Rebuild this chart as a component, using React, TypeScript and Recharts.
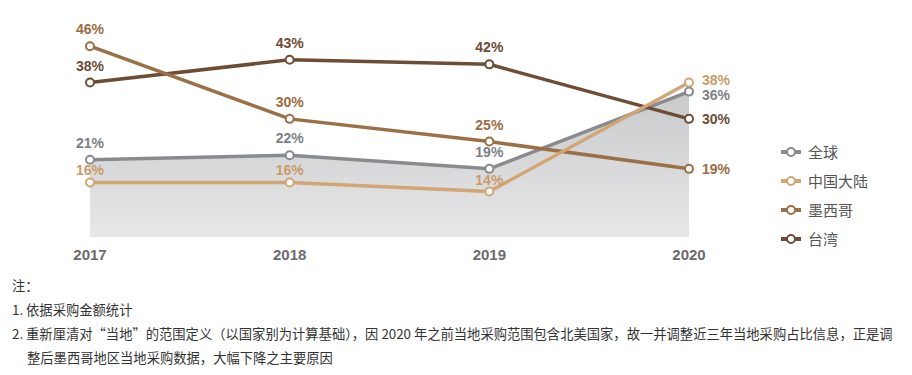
import { Area, ComposedChart, Line, XAxis, YAxis } from "recharts";

const years = ["2017", "2018", "2019", "2020"];
const globalShare = [21, 22, 19, 36];
const chinaShare = [16, 16, 14, 38];
const mexicoShare = [46, 30, 25, 19];
const taiwanShare = [38, 43, 42, 30];

const seriesNames = ["全球", "中国大陆", "墨西哥", "台湾"];
const seriesColors = ["#8a8b8e", "#d2a574", "#9c7046", "#6f4d35"];
const labelColors = ["#7d7f84", "#c99b69", "#9a6c43", "#6e4c35"];

const notes = [
  "注：",
  "1. 依据采购金额统计",
  "2. 重新厘清对“当地”的范围定义（以国家别为计算基础），因 2020 年之前当地采购范围包含北美国家，故一并调整近三年当地采购占比信息，正是调",
  "整后墨西哥地区当地采购数据，大幅下降之主要原因",
];

const rows = years.map((y, i) => ({
  year: y,
  global: globalShare[i],
  china: chinaShare[i],
  mexico: mexicoShare[i],
  taiwan: taiwanShare[i],
}));

const FONT = "'Liberation Sans', Arial, sans-serif";
const CJK = "'Noto Sans CJK SC', sans-serif";

// labels sit above the point, except the last year which goes to the right
const makeLabel = (color: string, lastDy = 0, above = 17) => (props: any) => {
  const { x, y, value, index } = props;
  const last = index === years.length - 1;
  return (
    <text
      x={last ? x + 13 : x}
      y={last ? y + lastDy : y - above}
      fill={color}
      fontSize={14}
      fontWeight="bold"
      fontFamily={FONT}
      textAnchor={last ? "start" : "middle"}
      dominantBaseline="central"
    >
      {value}%
    </text>
  );
};

const dot = (color: string) => ({ r: 4, fill: "#fff", stroke: color, strokeWidth: 2 });

function LegendBox() {
  return (
    <div style={{ position: "absolute", left: 781, top: 137 }}>
      {seriesNames.map((name, i) => (
        <div key={name} style={{ display: "flex", alignItems: "center", height: 29 }}>
          <svg width={22} height={12}>
            <line x1={0} y1={6} x2={20} y2={6} stroke={seriesColors[i]} strokeWidth={4} />
            <circle cx={10} cy={6} r={4} fill="#fff" stroke={seriesColors[i]} strokeWidth={2} />
          </svg>
          <span style={{ marginLeft: 5, fontSize: 15, color: "#555", fontFamily: CJK }}>{name}</span>
        </div>
      ))}
    </div>
  );
}

export default function App() {
  return (
    <div style={{ position: "absolute", left: 0, top: 0, width: 912, height: 375, background: "#fff" }}>
      <ComposedChart
        width={912}
        height={270}
        data={rows}
        margin={{ top: 28, right: 223, left: 90, bottom: 3 }}
      >
        <defs>
          <linearGradient id="globalFill" x1="0" y1="0" x2="0" y2="1">
            <stop offset="0%" stopColor="#c9cacc" />
            <stop offset="100%" stopColor="#e7e7e8" />
          </linearGradient>
        </defs>
        <XAxis
          dataKey="year"
          axisLine={false}
          tickLine={false}
          tickSize={0}
          tickMargin={12}
          height={30}
          interval={0}
          tick={{ fill: "#6b6b6e", fontSize: 15, fontWeight: "bold", fontFamily: FONT }}
        />
        <YAxis hide domain={[4, 50]} />
        <Area
          dataKey="global"
          type="linear"
          stroke="none"
          fill="url(#globalFill)"
          fillOpacity={1}
          isAnimationActive={false}
        />
        <Line
          dataKey="global"
          type="linear"
          stroke={seriesColors[0]}
          strokeWidth={3.5}
          dot={dot(seriesColors[0])}
          activeDot={false}
          label={makeLabel(labelColors[0], 3)}
          isAnimationActive={false}
        />
        <Line
          dataKey="taiwan"
          type="linear"
          stroke={seriesColors[3]}
          strokeWidth={3.5}
          dot={dot(seriesColors[3])}
          activeDot={false}
          label={makeLabel(labelColors[3])}
          isAnimationActive={false}
        />
        <Line
          dataKey="mexico"
          type="linear"
          stroke={seriesColors[2]}
          strokeWidth={3.5}
          dot={dot(seriesColors[2])}
          activeDot={false}
          label={makeLabel(labelColors[2])}
          isAnimationActive={false}
        />
        <Line
          dataKey="china"
          type="linear"
          stroke={seriesColors[1]}
          strokeWidth={3.5}
          dot={dot(seriesColors[1])}
          activeDot={false}
          label={makeLabel(labelColors[1], -3, 12)}
          isAnimationActive={false}
        />
      </ComposedChart>
      <LegendBox />
      <div
        style={{
          position: "absolute",
          left: 12,
          top: 274,
          fontFamily: CJK,
          fontSize: 13.3,
          lineHeight: "24px",
          color: "#333",
          whiteSpace: "nowrap",
        }}
      >
        {notes.map((n, i) => (
          <div key={i} style={{ paddingLeft: i === 3 ? 15 : 0 }}>
            {n}
          </div>
        ))}
      </div>
    </div>
  );
}
